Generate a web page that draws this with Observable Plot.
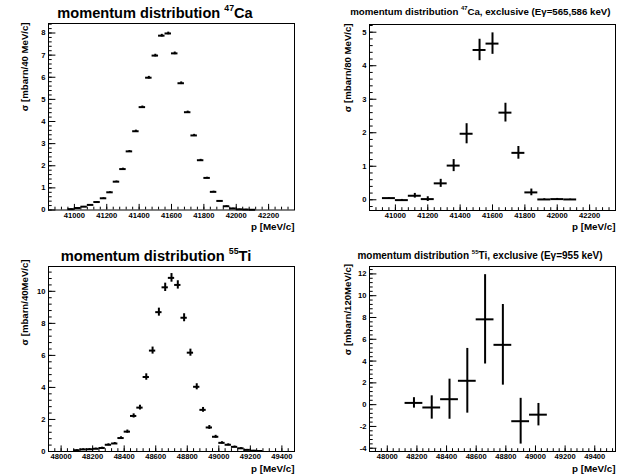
<!DOCTYPE html>
<html><head><meta charset="utf-8">
<script src="https://cdn.jsdelivr.net/npm/d3@7"></script>
<script src="https://cdn.jsdelivr.net/npm/@observablehq/plot@0.6"></script>
<style>
body{margin:0;background:#fff;}
#chart{position:relative;width:624px;height:475px;background:#fff;}
.panel{position:absolute;}
</style></head><body><div id="chart"></div>
<script>
// ---------- data ----------
// Panel 1: inclusive 47Ca, 40 MeV bins
const caIncX = [40980,41020,41060,41100,41140,41180,41220,41260,41300,41340,41380,41420,41460,41500,41540,41580,41620,41660,41700,41740,41780,41820,41860,41900,41940,41980,42020,42060,42100];
const caIncY = [0.04,0.09,0.15,0.23,0.36,0.53,0.8,1.28,1.85,2.65,3.56,4.65,5.98,6.98,7.88,7.98,7.08,5.73,4.42,3.37,2.25,1.45,0.82,0.41,0.17,0.07,0.03,0.02,0.01];
const caIncErr = [0.01,0.01,0.01,0.02,0.02,0.02,0.03,0.03,0.04,0.04,0.05,0.05,0.06,0.06,0.06,0.06,0.06,0.06,0.05,0.05,0.04,0.03,0.03,0.02,0.02,0.01,0.01,0.01,0.01];
// Panel 2: exclusive 47Ca, 80 MeV bins
const caExcX = [40960,41040,41120,41200,41280,41360,41440,41520,41600,41680,41760,41840,41920,42000,42080];
const caExcY = [0.05,-0.01,0.12,0.02,0.49,1.02,1.97,4.47,4.66,2.6,1.4,0.22,0.01,0.02,0.01];
const caExcErr = [0.01,0.02,0.07,0.07,0.12,0.18,0.3,0.32,0.32,0.28,0.19,0.1,0.02,0.02,0.01];
// Panel 3: inclusive 55Ti, 40 MeV bins
const tiIncX = [48100,48140,48180,48220,48260,48300,48340,48380,48420,48460,48500,48540,48580,48620,48660,48700,48740,48780,48820,48860,48900,48940,48980,49020,49060,49100,49140,49180,49220,49260];
const tiIncY = [0.08,0.13,0.14,0.17,0.22,0.42,0.5,0.84,1.24,2.22,2.74,4.65,6.3,8.7,10.25,10.84,10.4,8.35,6.17,4.04,2.6,1.5,0.92,0.54,0.42,0.29,0.2,0.1,0.05,0.03];
const tiIncErr = [0.03,0.04,0.04,0.04,0.05,0.06,0.06,0.08,0.1,0.13,0.15,0.2,0.22,0.25,0.26,0.27,0.26,0.25,0.22,0.19,0.15,0.12,0.09,0.07,0.06,0.05,0.04,0.03,0.02,0.02];
// Panel 4: exclusive 55Ti, 120 MeV bins
const tiExcX = [48180,48300,48420,48540,48660,48780,48900,49020];
const tiExcY = [0.16,-0.26,0.5,2.19,7.83,5.49,-1.52,-0.92];
const tiExcErr = [0.48,1.07,1.84,2.97,4.1,3.7,2.1,1.03];

// tick labels
const caTicksX = [41000,41200,41400,41600,41800,42000,42200];
const caIncTicksY = [0,1,2,3,4,5,6,7,8];
const caExcTicksY = [0,1,2,3,4,5];
const tiTicksX = [48000,48200,48400,48600,48800,49000,49200,49400];
const tiIncTicksY = [0,2,4,6,8,10];
const tiExcTicksY = [-4,-2,0,2,4,6,8,10,12];

const FONT = '"Liberation Sans", Arial, Helvetica, sans-serif';

function rows(xs, ys, es, half) {
  return xs.map((x, i) => ({x, y: ys[i], x1: x - half, x2: x + half, y1: ys[i] - es[i], y2: ys[i] + es[i]}));
}

function panel(o) {
  const fw = o.width - o.ml - o.mr;
  const fh = o.height - o.mt - o.mb;
  const data = rows(o.xs, o.ys, o.es, o.half);
  const xMinor = d3.range(Math.ceil(o.xDomain[0] / o.xMinorStep) * o.xMinorStep, o.xDomain[1], o.xMinorStep);
  const yMinor = d3.range(Math.ceil(o.yDomain[0] / o.yMinorStep - 1e-9) * o.yMinorStep, o.yDomain[1], o.yMinorStep);
  const svg = Plot.plot({
    width: o.width, height: o.height,
    marginLeft: o.ml, marginRight: o.mr, marginTop: o.mt, marginBottom: o.mb,
    x: {domain: o.xDomain}, y: {domain: o.yDomain},
    style: {fontFamily: FONT, background: "white", color: "black", overflow: "visible"},
    marks: [
      Plot.tickY(yMinor, {y: d => d, insetRight: fw - 3.7, stroke: "black", strokeWidth: 1}),
      Plot.tickY(o.yTicks, {y: d => d, insetRight: fw - 7.4, stroke: "black", strokeWidth: 1}),
      Plot.tickX(xMinor, {x: d => d, insetTop: fh - 2.8, stroke: "black", strokeWidth: 1}),
      Plot.tickX(o.xTicks, {x: d => d, insetTop: fh - 5.6, stroke: "black", strokeWidth: 1}),
      Plot.axisY(o.yTicks, {tickSize: 0, tickPadding: 3, fontSize: 7.6, fontWeight: "bold", tickFormat: d => String(d), label: null}),
      Plot.axisX(o.xTicks, {tickSize: 0, tickPadding: o.xPad, fontSize: 7.6, fontWeight: "bold", tickFormat: d => String(d), label: null}),
      Plot.ruleY(data, {y: "y", x1: "x1", x2: "x2", stroke: "black", strokeWidth: o.sw}),
      Plot.ruleX(data, {x: "x", y1: "y1", y2: "y2", stroke: "black", strokeWidth: o.sw}),
      Plot.frame({stroke: "black", strokeWidth: 1}),
      Plot.text([o.yTitle], {text: d => d, frameAnchor: "top-left", rotate: -90, textAnchor: "end", dx: o.ytDx, dy: o.ytDy, fontSize: 9.6, fontWeight: "bold", fill: "black"}),
      Plot.text(["p [MeV/c]"], {text: d => d, frameAnchor: "bottom-right", textAnchor: "end", lineAnchor: "bottom", dy: o.xtDy, fontSize: 9.8, fontWeight: "bold", fill: "black"})
    ]
  });
  const div = document.createElement("div");
  div.className = "panel";
  div.style.left = o.left + "px";
  div.style.top = o.top + "px";
  div.appendChild(svg);
  document.getElementById("chart").appendChild(div);
}

panel({left: 0, top: 0, width: 312, height: 237, ml: 48, mr: 18, mt: 23, mb: 27.5,
  xDomain: [40840, 42360], yDomain: [0, 8.43], xTicks: caTicksX, yTicks: caIncTicksY, xMinorStep: 40, yMinorStep: 0.2,
  xs: caIncX, ys: caIncY, es: caIncErr, half: 20, sw: 2, xPad: 2.5,
  yTitle: "σ [mbarn/40 MeV/c]", ytDx: -27, ytDy: -1, xtDy: 20});

panel({left: 312, top: 0, width: 312, height: 237, ml: 57, mr: 9, mt: 24, mb: 27,
  xDomain: [40840, 42360], yDomain: [-0.32, 5.23], xTicks: caTicksX, yTicks: caExcTicksY, xMinorStep: 40, yMinorStep: 0.2,
  xs: caExcX, ys: caExcY, es: caExcErr, half: 40, sw: 2, xPad: 2.5,
  yTitle: "σ [mbarn/80 MeV/c]", ytDx: -25, ytDy: -1, xtDy: 19.5});

panel({left: 0, top: 237, width: 312, height: 238, ml: 48, mr: 18, mt: 29, mb: 24,
  xDomain: [47920, 49480], yDomain: [0, 11.55], xTicks: tiTicksX, yTicks: tiIncTicksY, xMinorStep: 40, yMinorStep: 0.4,
  xs: tiIncX, ys: tiIncY, es: tiIncErr, half: 20, sw: 2, xPad: 2,
  yTitle: "σ [mbarn/40MeV/c]", ytDx: -27.5, ytDy: -7, xtDy: 20});

panel({left: 312, top: 237, width: 312, height: 238, ml: 57, mr: 9, mt: 29, mb: 24,
  xDomain: [47880, 49540], yDomain: [-4.3, 12.68], xTicks: tiTicksX, yTicks: tiExcTicksY, xMinorStep: 40, yMinorStep: 0.4,
  xs: tiExcX, ys: tiExcY, es: tiExcErr, half: 60, sw: 2, xPad: 2,
  yTitle: "σ [mbarn/120MeV/c]", ytDx: -25.5, ytDy: -2.5, xtDy: 20});

// ---------- titles ----------
const titles = [
  {cx: 155, y: 17.5, size: 14.6, pre: "momentum distribution ", sup: "47", post: "Ca"},
  {cx: 480.3, y: 14.5, size: 9.7, pre: "momentum distribution ", sup: "47", post: "Ca, exclusive (Eγ=565,586 keV)"},
  {cx: 156, y: 260.5, size: 14.7, pre: "momentum distribution ", sup: "55", post: "Ti"},
  {cx: 480, y: 258.5, size: 10, pre: "momentum distribution ", sup: "55", post: "Ti, exclusive (Eγ=955 keV)"}
];
const overlay = d3.create("svg").attr("width", 624).attr("height", 475)
  .style("position", "absolute").style("left", "0px").style("top", "0px").style("pointer-events", "none")
  .attr("font-family", FONT).attr("font-weight", "bold");
for (const t of titles) {
  const shift = t.size * 0.42;
  const tx = overlay.append("text").attr("x", t.cx).attr("y", t.y).attr("text-anchor", "middle")
    .attr("font-size", t.size).attr("fill", "black");
  tx.append("tspan").text(t.pre);
  tx.append("tspan").attr("dy", -shift).attr("font-size", t.size * 0.6).text(t.sup);
  tx.append("tspan").attr("dy", shift).text(t.post);
}
document.getElementById("chart").appendChild(overlay.node());
</script></body></html>
